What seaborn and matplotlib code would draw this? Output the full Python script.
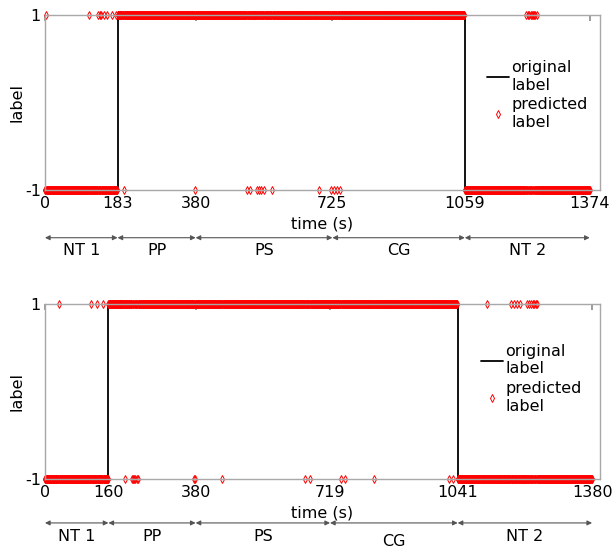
import numpy as np
import pandas as pd
import matplotlib
matplotlib.use("Agg")
import matplotlib.pyplot as plt
import seaborn as sns

# panel 1 (top)
t_end_1 = 1374
switch_1 = [183, 1059]
ticks_1 = [0, 183, 380, 725, 1059, 1374]
# seconds where the prediction differs from the original label
flips_1 = [2, 110, 133, 139, 141, 150, 156, 168, 179,
           200, 378, 510, 517, 534, 540, 544, 552, 573, 690, 722, 728, 736, 744,
           1214, 1219, 1222, 1225, 1228, 1231, 1234, 1237, 1240]

# panel 2 (bottom)
t_end_2 = 1380
switch_2 = [160, 1041]
ticks_2 = [0, 160, 380, 719, 1041, 1380]
flips_2 = [36, 115, 131, 146,
           202, 219, 222, 225, 228, 231, 234, 376, 379, 446, 657, 669,
           746, 757, 831, 1020, 1028,
           1114, 1175, 1183, 1190, 1197, 1217, 1222, 1226, 1230, 1234, 1238, 1242]

phases = ["NT 1", "PP", "PS", "CG", "NT 2"]
label_dy_2 = [0, 0, 0, -0.025, 0]

sns.set_theme(style="white")
plt.rcParams["font.family"] = ["DejaVu Sans"]
plt.rcParams["text.color"] = "black"
plt.rcParams["axes.labelcolor"] = "black"
plt.rcParams["xtick.labelcolor"] = "black"
plt.rcParams["ytick.labelcolor"] = "black"
FS = 11.5


def build(t_end, switch, flips):
    t = np.arange(0, t_end + 1)
    orig = np.where((t >= switch[0]) & (t < switch[1]), 1, -1)
    pred = orig.copy()
    idx = np.array(flips)
    pred[idx] = -orig[idx]
    df = pd.DataFrame({"time": t, "original": orig, "predicted": pred})
    step = pd.DataFrame({"time": [0, switch[0], switch[1], t_end],
                         "label": [-1, 1, -1, -1]})
    return df, step


def panel(ax, t_end, switch, flips, ticks, arrow_y, text_y, dy, leg_xy):
    df, step = build(t_end, switch, flips)
    sns.lineplot(data=step, x="time", y="label", ax=ax, color="black",
                 linewidth=1.3, drawstyle="steps-post", label="original\nlabel",
                 sort=False)
    ax.plot(df["time"], df["predicted"], linestyle="none", marker="d",
            markersize=3.8, markerfacecolor="none", markeredgecolor="red",
            markeredgewidth=0.7, clip_on=False, label="predicted\nlabel")
    ax.set_xlim(0, 1400)
    ax.set_ylim(-1, 1)
    ax.set_xticks(ticks)
    ax.set_xticklabels([str(v) for v in ticks], fontsize=FS)
    ax.set_yticks([-1, 1])
    ax.set_yticklabels(["-1", "1"], fontsize=FS)
    ax.set_xlabel("time (s)", fontsize=FS, labelpad=4)
    ax.set_ylabel("label", fontsize=FS, labelpad=0)
    ax.tick_params(axis="x", direction="in", top=True, length=4, color="#909090", pad=4)
    ax.tick_params(axis="y", direction="in", right=True, length=0, pad=3)
    for s in ax.spines.values():
        s.set_color("#a8a8a8")
        s.set_linewidth(1.0)
    ax.legend(loc="upper left", bbox_to_anchor=leg_xy, frameon=False,
              fontsize=FS, handlelength=1.4, handletextpad=0.15,
              borderaxespad=0, borderpad=0, labelspacing=0.3)
    tr = ax.get_xaxis_transform()
    for i, name in enumerate(phases):
        a, b = ticks[i], ticks[i + 1]
        ax.annotate("", xy=(a, arrow_y), xytext=(b, arrow_y), xycoords=tr,
                    textcoords=tr, annotation_clip=False,
                    arrowprops=dict(arrowstyle="<|-|>", color="#555555", lw=0.8,
                                    mutation_scale=7, shrinkA=0, shrinkB=0))
        ax.text((a + b) / 2, text_y + dy[i], name, transform=tr, ha="center",
                va="center", fontsize=FS)


fig = plt.figure(figsize=(6.12, 5.49), dpi=100)
ax1 = fig.add_axes([0.0735, 0.654, 0.9069, 0.3187])
ax2 = fig.add_axes([0.0735, 0.1275, 0.9069, 0.3188])

panel(ax1, t_end_1, switch_1, flips_1, ticks_1, -0.273, -0.345, [0] * 5, (0.796, 0.741))
panel(ax2, t_end_2, switch_2, flips_2, ticks_2, -0.251, -0.33, label_dy_2, (0.785, 0.771))

fig.savefig("out.png", dpi=100)
